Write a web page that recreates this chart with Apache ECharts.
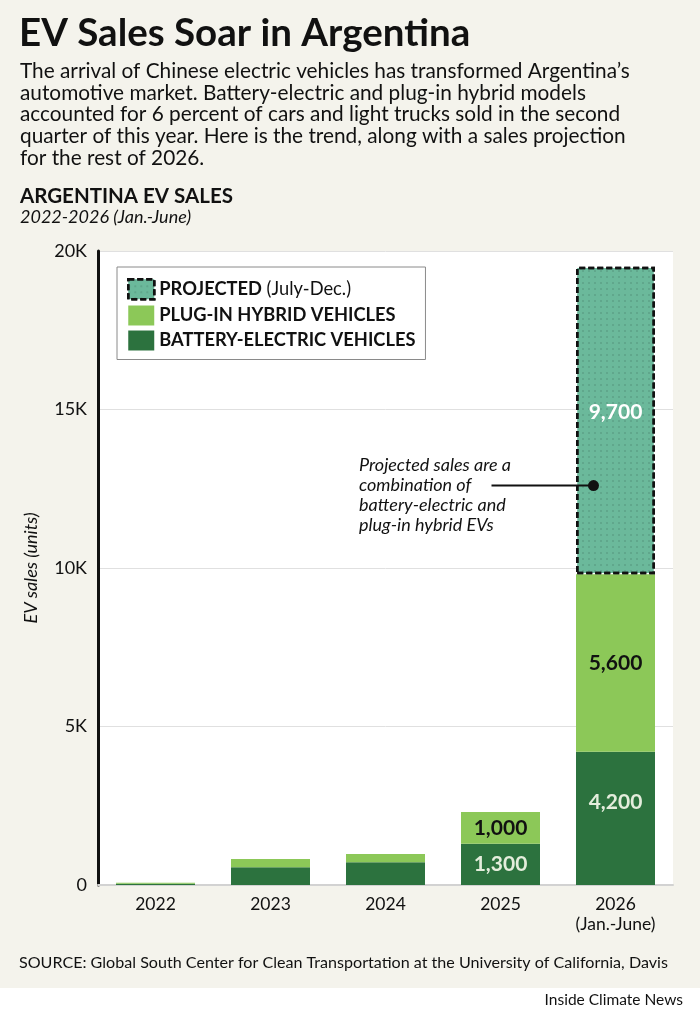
<!DOCTYPE html>
<html><head><meta charset="utf-8">
<script src="https://cdn.jsdelivr.net/npm/echarts@6/dist/echarts.min.js"></script>
<style>html,body{margin:0;padding:0;background:#f4f3ec}#c{width:700px;height:1012px}</style>
</head><body><div id="c"></div>
<script>
// ---- data ----
const years = ['2022', '2023', '2024', '2025', '2026\n(Jan.-June)'];
const bev = [40, 560, 720, 1300, 4200];
const phev = [30, 260, 260, 1000, 5600];
const projected = [null, null, null, null, 9700];
const seriesNames = ['BATTERY-ELECTRIC VEHICLES', 'PLUG-IN HYBRID VEHICLES', 'PROJECTED'];
const yMax = 20000;
const yStep = 5000;
const annotationLines = ['Projected sales are a', 'combination of', 'battery-electric and', 'plug-in hybrid EVs'];
const annotationValue = 12600;
const titleText = 'EV Sales Soar in Argentina';
const introLines = [
  'The arrival of Chinese electric vehicles has transformed Argentina\u2019s',
  'automotive market. Battery-electric and plug-in hybrid models',
  'accounted for 6 percent of cars and light trucks sold in the second',
  'quarter of this year. Here is the trend, along with a sales projection',
  'for the rest of 2026.'
];
const chartTitle = 'ARGENTINA EV SALES';
const chartSub = '2022-2026 (Jan.-June)';
const sourceText = 'SOURCE: Global South Center for Clean Transportation at the University of California, Davis';
const creditText = 'Inside Climate News';

// ---- style ----
const F = 'Lato';
const C_BEV = '#2c723e', C_PHEV = '#8cc858', C_PROJ = '#6bb99b', BG = '#f4f3ec';

const chart = echarts.init(document.getElementById('c'), null, {renderer: 'canvas'});

const labelFmt = p => (p.dataIndex >= 3 && p.value != null) ? Number(p.value).toLocaleString('en-US') : '';
const lastIdx = years.length - 1;

const G = [];
G.push({id: 'foot', type: 'rect', left: 0, top: 988, shape: {width: 700, height: 24}, style: {fill: '#ffffff'}, z: 0});
G.push({id: 'title', type: 'text', x: 19, y: 34, style: {text: titleText, font: 'bold 38.5px ' + F, fill: '#111', verticalAlign: 'middle'}});
introLines.forEach((t, i) => G.push({id: 'intro' + i, type: 'text', x: 20, y: 71 + i * 21.8, style: {text: t, font: '20.8px ' + F, fill: '#111', verticalAlign: 'middle'}}));
G.push({id: 'ct', type: 'text', x: 20, y: 196, style: {text: chartTitle, font: 'bold 20.5px ' + F, fill: '#111', verticalAlign: 'middle'}});
G.push({id: 'cs', type: 'text', x: 20, y: 217, style: {text: chartSub, font: 'italic 18px ' + F, fill: '#111', verticalAlign: 'middle'}});
G.push({id: 'src', type: 'text', x: 19, y: 963, style: {text: sourceText, font: '16.1px ' + F, fill: '#111', verticalAlign: 'middle'}});
G.push({id: 'cred', type: 'text', x: 683, y: 1000, style: {text: creditText, font: '15.5px ' + F, fill: '#111', verticalAlign: 'middle', align: 'right'}});

const option = {
  backgroundColor: BG,
  animation: false,
  grid: {left: 98, right: 27, top: 251, bottom: 127, show: true, backgroundColor: '#ffffff', borderWidth: 0},
  legend: {
    left: 117, top: 267, orient: 'vertical',
    icon: 'rect',
    itemWidth: 26, itemHeight: 20, itemGap: 5,
    padding: [11, 10, 9, 10],
    backgroundColor: '#ffffff', borderColor: '#8a8a8a', borderWidth: 1,
    selectedMode: false,
    data: [
      {name: seriesNames[2], itemStyle: {color: C_PROJ, borderColor: '#111', borderWidth: 2.5, borderType: [6, 3]}},
      {name: seriesNames[1], itemStyle: {color: C_PHEV, borderWidth: 0}},
      {name: seriesNames[0], itemStyle: {color: C_BEV, borderWidth: 0}}
    ],
    formatter: n => n === seriesNames[2] ? '{b|PROJECTED} {r|(July-Dec.)}' : '{b|' + n + '}',
    textStyle: {
      fontFamily: F, fontSize: 18.3, color: '#111',
      rich: {b: {fontFamily: F, fontSize: 18.3, fontWeight: 'bold', color: '#111'},
             r: {fontFamily: F, fontSize: 18.3, color: '#111'}}
    }
  },
  xAxis: {
    type: 'category', data: years,
    axisLine: {show: true, lineStyle: {color: '#d2d2d2', width: 2}},
    axisTick: {show: false},
    axisLabel: {fontFamily: F, fontSize: 17.5, color: '#111', margin: 9, lineHeight: 20}
  },
  yAxis: {
    type: 'value', min: 0, max: yMax, interval: yStep,
    name: 'EV sales (units)', nameLocation: 'middle', nameGap: 58,
    nameTextStyle: {fontFamily: F, fontStyle: 'italic', fontSize: 18, color: '#111'},
    axisLine: {show: true, lineStyle: {color: '#111', width: 3}},
    axisTick: {show: false},
    axisLabel: {fontFamily: F, fontSize: 18, color: '#111', margin: 11,
      formatter: v => v === 0 ? '0' : (v / 1000) + 'K'},
    splitLine: {show: true, lineStyle: {color: '#e0e0e0', width: 1}}
  },
  series: [
    {name: seriesNames[0], type: 'bar', stack: 'ev', barWidth: 79,
      data: bev.map((v, i) => i === lastIdx ? {value: v, label: {position: 'insideTop', distance: 40}} : v),
      itemStyle: {color: C_BEV},
      label: {show: true, position: 'inside', formatter: labelFmt, fontFamily: F, fontWeight: 'bold', fontSize: 21, color: '#e4eddc'}},
    {name: seriesNames[1], type: 'bar', stack: 'ev', data: phev, barWidth: 79,
      itemStyle: {color: C_PHEV},
      label: {show: true, position: 'inside', formatter: labelFmt, fontFamily: F, fontWeight: 'bold', fontSize: 21, color: '#111'}},
    {name: seriesNames[2], type: 'bar', stack: 'ev', data: projected, barWidth: 79,
      itemStyle: {color: C_PROJ, borderColor: '#111', borderWidth: 2.5, borderType: [6, 3],
        decal: {symbol: 'circle', symbolSize: 1, color: 'rgba(60,110,90,0.3)', dashArrayX: [1.3, 3.7], dashArrayY: [1.3, 3.7]}},
      label: {show: true, position: 'inside', offset: [0, -8], formatter: labelFmt, fontFamily: F, fontWeight: 'bold', fontSize: 21, color: '#ffffff'}}
  ],
  graphic: {elements: G}
};
chart.setOption(option);

// annotation anchored to the projected bar via the axes
const p = chart.convertToPixel({xAxisIndex: 0, yAxisIndex: 0}, [years[lastIdx], annotationValue]);
const dotX = p[0] - 22, dotY = p[1];
G.push({id: 'aline', type: 'line', shape: {x1: dotX - 102, y1: dotY, x2: dotX, y2: dotY}, style: {stroke: '#111', lineWidth: 2}, z: 10});
G.push({id: 'adot', type: 'circle', shape: {cx: dotX, cy: dotY, r: 5.5}, style: {fill: '#111'}, z: 10});
annotationLines.forEach((t, i) => G.push({id: 'at' + i, type: 'text', x: 359, y: dotY - 20 + i * 20, style: {text: t, font: 'italic 18px ' + F, fill: '#111', verticalAlign: 'middle'}, z: 10}));
chart.setOption({graphic: {elements: G}});
</script>
</body></html>
